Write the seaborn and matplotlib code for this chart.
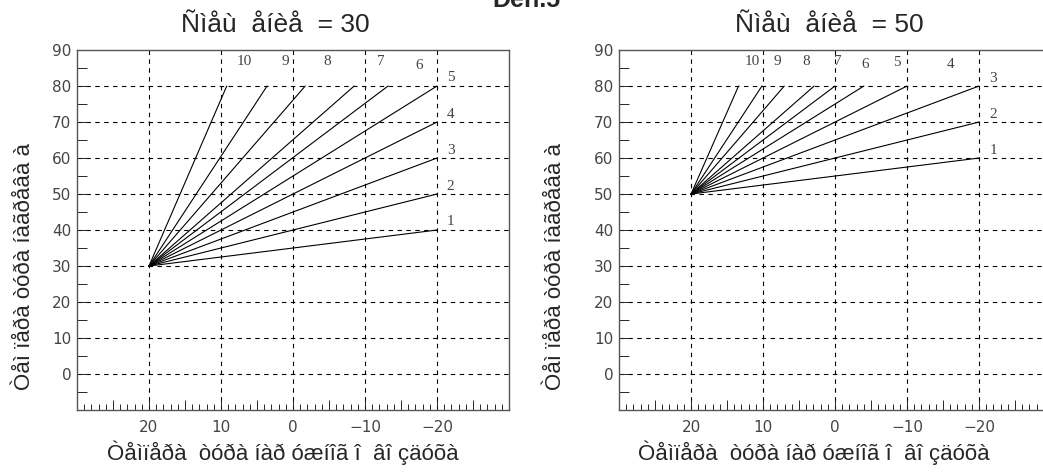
import pandas as pd
import matplotlib
matplotlib.use("Agg")
import matplotlib.pyplot as plt
from matplotlib.ticker import MultipleLocator, FuncFormatter
import seaborn as sns

# Данные: лучи из общей точки (начало) до концов
left_origin_x, left_origin_y = 20, 30
left_end_x = [-20, -20, -20, -20, -20, -13.2, -8.5, -1.7, 3.6, 9.2]
left_end_y = [40, 50, 60, 70, 80, 80, 80, 80, 80, 80]
left_lab_x = [-21.9, -21.9, -21.9, -21.9, -21.9, -17.5, -12.2, -4.7, 1.1, 6.7]
left_lab_y = [42.3, 52.2, 62.2, 72.2, 82.4, 85.8, 86.75, 86.75, 86.75, 86.75]

right_origin_x, right_origin_y = 20, 50
right_end_x = [-20, -20, -20, -10, -4, 0, 2.9, 7.05, 10.15, 13.4]
right_end_y = [60, 70, 80, 80, 80, 80, 80, 80, 80, 80]
right_lab_x = [-22, -22, -22, -16.1, -8.6, -4.2, -0.4, 4.0, 8.0, 11.45]
right_lab_y = [62.2, 72.2, 82.1, 86, 86.6, 86, 86.75, 86.75, 86.75, 86.75]

line_ids = list(range(1, 11))
titles = ["Ñìåù  åíèå  = 30", "Ñìåù  åíèå  = 50"]
xlabel = "Òåìïåðà  òóðà íàð óæíîã î  âî çäóõà"
ylabel = "Òåì ïåðà òóðà íàãðåâà à"
suptitle = "Ðèñ.5"

sns.set_style("white")
plt.rcParams['font.family'] = ['Liberation Sans', 'DejaVu Sans']


def ray_frame(ox, oy, ex, ey):
    rows = []
    for i, x, y in zip(line_ids, ex, ey):
        rows.append({'line': i, 'x': ox, 'y': oy, 'order': 0})
        rows.append({'line': i, 'x': x, 'y': y, 'order': 1})
    return pd.DataFrame(rows)


def draw_panel(ax, df, lab_x, lab_y, title, title_x, ylab_x, xlab_x):
    sns.lineplot(data=df, x='x', y='y', units='line', estimator=None,
                 sort=False, color='black', lw=0.8, ax=ax, legend=False)
    ax.set_xlim(30, -30)
    ax.set_ylim(-10, 90)

    for v in range(-20, 30, 10):
        ax.axvline(v, color='black', lw=0.8, ls=(0, (4, 4)), zorder=0)
    for v in range(0, 90, 10):
        ax.axhline(v, color='black', lw=0.8, ls=(0, (4, 4)), zorder=0)

    ax.xaxis.set_major_locator(MultipleLocator(5))
    ax.xaxis.set_minor_locator(MultipleLocator(1))
    ax.yaxis.set_major_locator(MultipleLocator(5))
    ax.xaxis.set_major_formatter(FuncFormatter(
        lambda v, p: f"{int(v)}".replace('-', '\u2212') if v % 10 == 0 and abs(v) <= 20 else ""))
    ax.yaxis.set_major_formatter(FuncFormatter(
        lambda v, p: f"{int(v)}" if v % 10 == 0 and 0 <= v <= 90 else ""))
    ax.tick_params(axis='x', which='major', direction='in', length=7, width=0.7,
                   bottom=True, labelsize=11, labelcolor='#444', pad=7)
    ax.tick_params(axis='x', which='minor', direction='in', length=4, width=0.7, bottom=True)
    ax.tick_params(axis='y', which='major', direction='in', length=7, width=0.7,
                   left=True, labelsize=11, labelcolor='#444', pad=4)
    for lab in ax.get_xticklabels() + ax.get_yticklabels():
        lab.set_family('DejaVu Sans')

    for sp in ax.spines.values():
        sp.set_color('#555')
        sp.set_linewidth(1.0)

    for i, x, y in zip(line_ids, lab_x, lab_y):
        ax.text(x, y, str(i), fontsize=11, color='#444', family='Liberation Serif',
                ha='center', va='center')

    ax.text(title_x, 1.07, title, transform=ax.transAxes, fontsize=19,
            ha='center', va='center')
    ax.set_xlabel(xlabel, fontsize=16)
    ax.set_ylabel(ylabel, fontsize=16)
    ax.xaxis.set_label_coords(xlab_x, -0.085)
    ax.yaxis.set_label_coords(ylab_x, 0.4)


fig = plt.figure(figsize=(10.43, 4.73), dpi=100)
ax1 = fig.add_axes([0.0738, 0.1332, 0.4142, 0.761])
ax2 = fig.add_axes([0.5935, 0.1332, 0.4142, 0.761])

draw_panel(ax1, ray_frame(left_origin_x, left_origin_y, left_end_x, left_end_y),
           left_lab_x, left_lab_y, titles[0], 0.458, -0.097, 0.477)
draw_panel(ax2, ray_frame(right_origin_x, right_origin_y, right_end_x, right_end_y),
           right_lab_x, right_lab_y, titles[1], 0.486, -0.123, 0.45)

fig.text(0.505, 1.0, suptitle, fontsize=18, fontweight='bold', ha='center', va='center')

fig.savefig("out.png", dpi=100)
